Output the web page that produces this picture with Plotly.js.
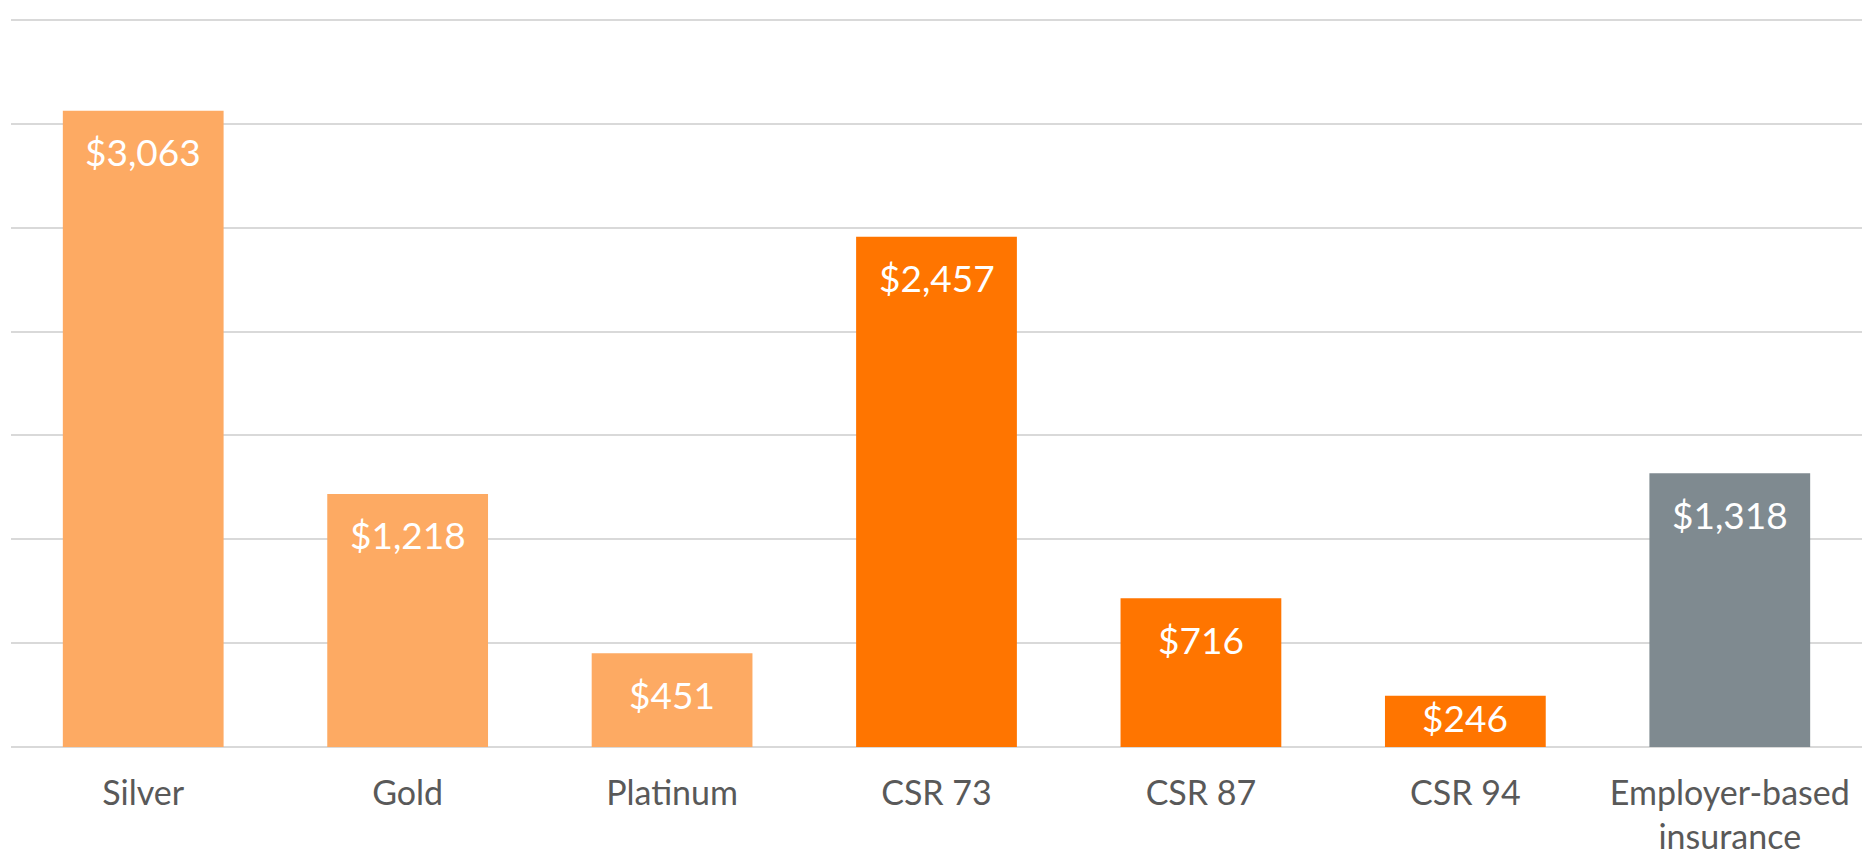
<!DOCTYPE html>
<html>
<head>
<meta charset="utf-8">
<script src="https://cdn.plot.ly/plotly-3.0.1.min.js"></script>
<style>
html,body{margin:0;padding:0;background:#fff;}
#chart{width:1864px;height:858px;}
</style>
</head>
<body>
<div id="chart"></div>
<script>
const categories = ["Silver", "Gold", "Platinum", "CSR 73", "CSR 87", "CSR 94", "Employer-based<br>insurance"];
const values = [3063, 1218, 451, 2457, 716, 246, 1318];
const barColors = ["#FDAA63", "#FDAA63", "#FDAA63", "#FF7500", "#FF7500", "#FF7500", "#7F8A90"];
const labels = values.map(v => "$" + v.toLocaleString("en-US"));

const yRange = [-5, 3505];
const marginT = 19, marginB = 110, H = 858;
const pxPerUnit = (H - marginT - marginB) / (yRange[1] - yRange[0]);

const trace = {
  type: "bar",
  x: categories,
  y: values,
  marker: {color: barColors},
  hoverinfo: "none",
  showlegend: false
};

const annotations = categories.map((c, i) => {
  const barPx = values[i] * pxPerUnit;
  return {
    x: c, y: values[i], xref: "x", yref: "y",
    text: labels[i], showarrow: false,
    yanchor: "middle", yshift: -Math.min(41, barPx - 29),
    font: {family: "Lato, 'Open Sans', sans-serif", size: 37, color: "#FFFFFF"}
  };
});

const layout = {
  width: 1864, height: H,
  margin: {l: 11, r: 2, t: marginT, b: marginB},
  paper_bgcolor: "#FFFFFF", plot_bgcolor: "#FFFFFF",
  bargap: 0.392,
  xaxis: {
    type: "category",
    showgrid: false, zeroline: false, showline: false,
    ticks: "", ticklabelstandoff: 22,
    tickfont: {family: "Lato, 'Open Sans', sans-serif", size: 34, color: "#595959"}
  },
  yaxis: {
    range: yRange, dtick: 500, tick0: 0,
    showgrid: true, gridcolor: "#D9D9D9", gridwidth: 2,
    zeroline: true, zerolinecolor: "#D9D9D9", zerolinewidth: 2,
    showticklabels: false, showline: false, ticks: ""
  },
  annotations: annotations
};

Plotly.newPlot("chart", [trace], layout, {displayModeBar: false, staticPlot: true});
</script>
</body>
</html>
